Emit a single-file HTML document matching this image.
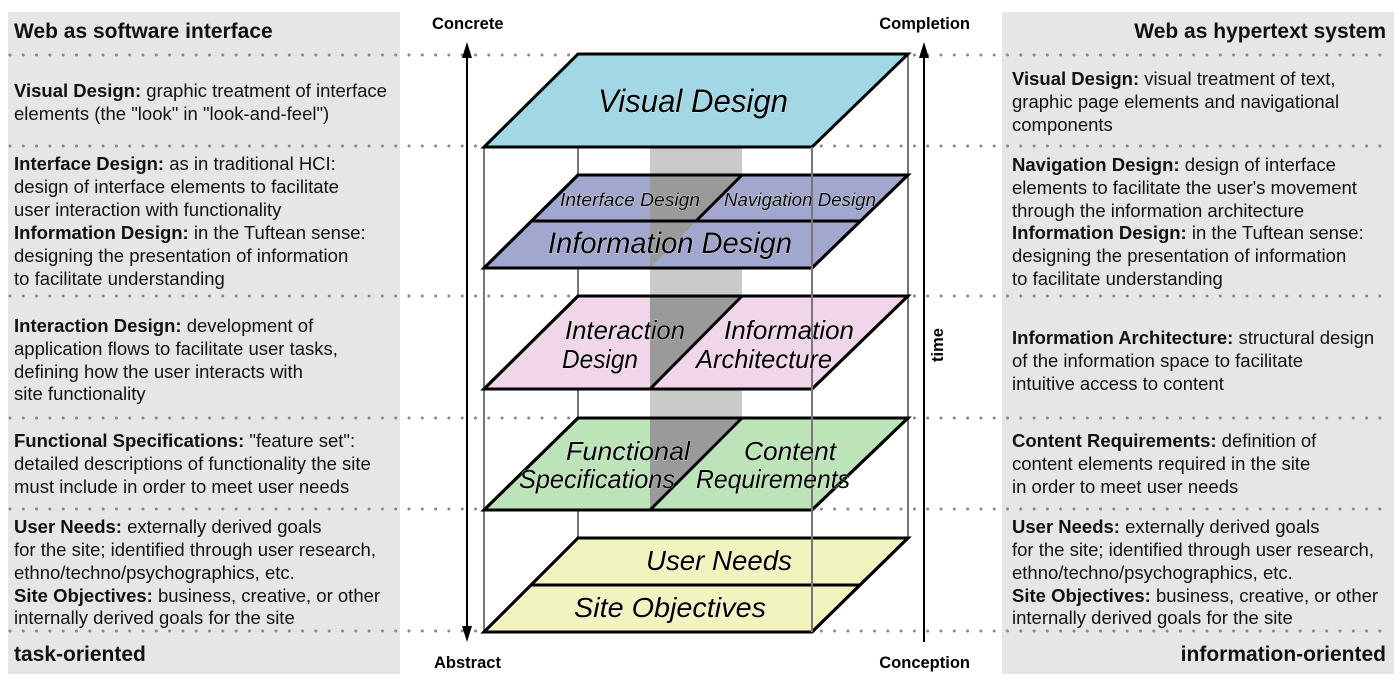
<!DOCTYPE html>
<html><head><meta charset="utf-8"><style>
html,body{margin:0;padding:0;background:#fff}
svg{display:block}
.t{font-family:"Liberation Sans",sans-serif;font-size:18.5px;fill:#111}
.b{font-weight:bold}
.h{font-family:"Liberation Sans",sans-serif;font-size:21px;font-weight:bold;fill:#111}
.ax{font-family:"Liberation Sans",sans-serif;font-size:16.5px;font-weight:bold;fill:#000}
.p{font-family:"Liberation Sans",sans-serif;font-style:italic;fill:#000;stroke:#fff;stroke-width:0.6;paint-order:stroke}
</style></head><body>
<svg width="1400" height="680" viewBox="0 0 1400 680">
<rect x="8" y="12" width="392" height="662" fill="#e6e6e6"/>
<rect x="1002" y="12" width="392" height="662" fill="#e6e6e6"/>
<g stroke="#888" stroke-width="3" stroke-linecap="round" stroke-dasharray="0 13.3">
<line x1="10" y1="55" x2="1392" y2="55"/>
<line x1="10" y1="146" x2="1392" y2="146"/>
<line x1="10" y1="296" x2="1392" y2="296"/>
<line x1="10" y1="418" x2="1392" y2="418"/>
<line x1="10" y1="509" x2="1392" y2="509"/>
<line x1="10" y1="631" x2="1392" y2="631"/>
</g>
<g stroke="#777" stroke-width="2">
<line x1="578" y1="147" x2="578" y2="538"/>
<line x1="908" y1="54" x2="908" y2="538"/>
<line x1="484" y1="147" x2="484" y2="632"/>
</g>
<rect x="650" y="147" width="92" height="271" fill="#c9c9c9"/>
<g stroke="#000" stroke-width="3" stroke-linejoin="miter">
<polygon points="578,54 908,54 812,147 484,147" fill="#a2d7e6"/>
<polygon points="578,175 908,175 812,268 484,268" fill="#a2a7cf"/>
<polygon points="578,296 908,296 812,389 484,389" fill="#f0d6e8"/>
<polygon points="578,418 908,418 812,510 484,510" fill="#bde3b8"/>
<polygon points="578,538 908,538 812,632 484,632" fill="#f2f4c0"/>
</g>
<g fill="#9a9a9a">
<polygon points="650,175 742,175 650,268"/>
<polygon points="650,296 742,296 650,389"/>
<polygon points="650,418 742,418 650,510"/>
</g>
<g stroke="#000" stroke-width="3" fill="none">
<polygon points="578,175 908,175 812,268 484,268"/>
<line x1="531" y1="221" x2="860" y2="221"/>
<line x1="742" y1="175" x2="696" y2="221"/>
<polygon points="578,296 908,296 812,389 484,389"/>
<line x1="742" y1="296" x2="650" y2="389"/>
<polygon points="578,418 908,418 812,510 484,510"/>
<line x1="742" y1="418" x2="650" y2="510"/>
<polygon points="578,538 908,538 812,632 484,632"/>
<line x1="531" y1="585" x2="860" y2="585"/>
</g>
<line x1="812" y1="147" x2="812" y2="632" stroke="#777" stroke-width="2"/>
<text class="p" x="693" y="112" font-size="32" text-anchor="middle" textLength="190" lengthAdjust="spacingAndGlyphs">Visual Design</text>
<text class="p" x="630" y="206" font-size="18" text-anchor="middle" textLength="140" lengthAdjust="spacingAndGlyphs">Interface Design</text>
<text class="p" x="800" y="206" font-size="18" text-anchor="middle" textLength="152" lengthAdjust="spacingAndGlyphs">Navigation Design</text>
<text class="p" x="670" y="253" font-size="30" text-anchor="middle" textLength="244" lengthAdjust="spacingAndGlyphs">Information Design</text>
<text class="p" x="625" y="339" font-size="26" text-anchor="middle" textLength="120" lengthAdjust="spacingAndGlyphs">Interaction</text>
<text class="p" x="600" y="368" font-size="26" text-anchor="middle" textLength="76" lengthAdjust="spacingAndGlyphs">Design</text>
<text class="p" x="789" y="339" font-size="26" text-anchor="middle" textLength="130" lengthAdjust="spacingAndGlyphs">Information</text>
<text class="p" x="764" y="368" font-size="26" text-anchor="middle" textLength="136" lengthAdjust="spacingAndGlyphs">Architecture</text>
<text class="p" x="628" y="460" font-size="26" text-anchor="middle" textLength="124" lengthAdjust="spacingAndGlyphs">Functional</text>
<text class="p" x="597" y="488" font-size="26" text-anchor="middle" textLength="156" lengthAdjust="spacingAndGlyphs">Specifications</text>
<text class="p" x="790" y="460" font-size="26" text-anchor="middle" textLength="92" lengthAdjust="spacingAndGlyphs">Content</text>
<text class="p" x="773" y="488" font-size="26" text-anchor="middle" textLength="154" lengthAdjust="spacingAndGlyphs">Requirements</text>
<text class="p" x="719" y="570" font-size="28" text-anchor="middle" textLength="146" lengthAdjust="spacingAndGlyphs">User Needs</text>
<text class="p" x="670" y="617" font-size="28" text-anchor="middle" textLength="192" lengthAdjust="spacingAndGlyphs">Site Objectives</text>
<line x1="467" y1="52" x2="467" y2="632" stroke="#000" stroke-width="2"/>
<polygon points="467,42 462,58 472,58" fill="#000"/>
<polygon points="467,642 462,626 472,626" fill="#000"/>
<line x1="924" y1="52" x2="924" y2="642" stroke="#000" stroke-width="2"/>
<polygon points="924,42 919,58 929,58" fill="#000"/>
<text class="ax" x="432" y="29">Concrete</text>
<text class="ax" x="970" y="29" text-anchor="end">Completion</text>
<text class="ax" x="434" y="668">Abstract</text>
<text class="ax" x="970" y="668" text-anchor="end">Conception</text>
<text class="ax" transform="translate(943,345) rotate(-90)" text-anchor="middle">time</text>
<text class="h" x="14" y="38">Web as software interface</text>
<text class="t" x="14" y="97"><tspan class="b">Visual Design:</tspan> graphic treatment of interface</text>
<text class="t" x="14" y="120">elements (the "look" in "look-and-feel")</text>
<text class="t" x="14" y="170"><tspan class="b">Interface Design:</tspan> as in traditional HCI:</text>
<text class="t" x="14" y="193">design of interface elements to facilitate</text>
<text class="t" x="14" y="216">user interaction with functionality</text>
<text class="t" x="14" y="239"><tspan class="b">Information Design:</tspan> in the Tuftean sense:</text>
<text class="t" x="14" y="262">designing the presentation of information</text>
<text class="t" x="14" y="285">to facilitate understanding</text>
<text class="t" x="14" y="332"><tspan class="b">Interaction Design:</tspan> development of</text>
<text class="t" x="14" y="355">application flows to facilitate user tasks,</text>
<text class="t" x="14" y="378">defining how the user interacts with</text>
<text class="t" x="14" y="400">site functionality</text>
<text class="t" x="14" y="447"><tspan class="b">Functional Specifications:</tspan> "feature set":</text>
<text class="t" x="14" y="470">detailed descriptions of functionality the site</text>
<text class="t" x="14" y="493">must include in order to meet user needs</text>
<text class="t" x="14" y="533"><tspan class="b">User Needs:</tspan> externally derived goals</text>
<text class="t" x="14" y="556">for the site; identified through user research,</text>
<text class="t" x="14" y="579">ethno/techno/psychographics, etc.</text>
<text class="t" x="14" y="602"><tspan class="b">Site Objectives:</tspan> business, creative, or other</text>
<text class="t" x="14" y="624">internally derived goals for the site</text>
<text class="h" x="14" y="661">task-oriented</text>
<text class="h" x="1386" y="38" text-anchor="end">Web as hypertext system</text>
<text class="t" x="1012" y="85"><tspan class="b">Visual Design:</tspan> visual treatment of text,</text>
<text class="t" x="1012" y="108">graphic page elements and navigational</text>
<text class="t" x="1012" y="131">components</text>
<text class="t" x="1012" y="171"><tspan class="b">Navigation Design:</tspan> design of interface</text>
<text class="t" x="1012" y="194">elements to facilitate the user's movement</text>
<text class="t" x="1012" y="217">through the information architecture</text>
<text class="t" x="1012" y="239"><tspan class="b">Information Design:</tspan> in the Tuftean sense:</text>
<text class="t" x="1012" y="262">designing the presentation of information</text>
<text class="t" x="1012" y="285">to facilitate understanding</text>
<text class="t" x="1012" y="344"><tspan class="b">Information Architecture:</tspan> structural design</text>
<text class="t" x="1012" y="367">of the information space to facilitate</text>
<text class="t" x="1012" y="390">intuitive access to content</text>
<text class="t" x="1012" y="447"><tspan class="b">Content Requirements:</tspan> definition of</text>
<text class="t" x="1012" y="470">content elements required in the site</text>
<text class="t" x="1012" y="493">in order to meet user needs</text>
<text class="t" x="1012" y="533"><tspan class="b">User Needs:</tspan> externally derived goals</text>
<text class="t" x="1012" y="556">for the site; identified through user research,</text>
<text class="t" x="1012" y="579">ethno/techno/psychographics, etc.</text>
<text class="t" x="1012" y="602"><tspan class="b">Site Objectives:</tspan> business, creative, or other</text>
<text class="t" x="1012" y="624">internally derived goals for the site</text>
<text class="h" x="1386" y="661" text-anchor="end">information-oriented</text>
</svg>
</body></html>
